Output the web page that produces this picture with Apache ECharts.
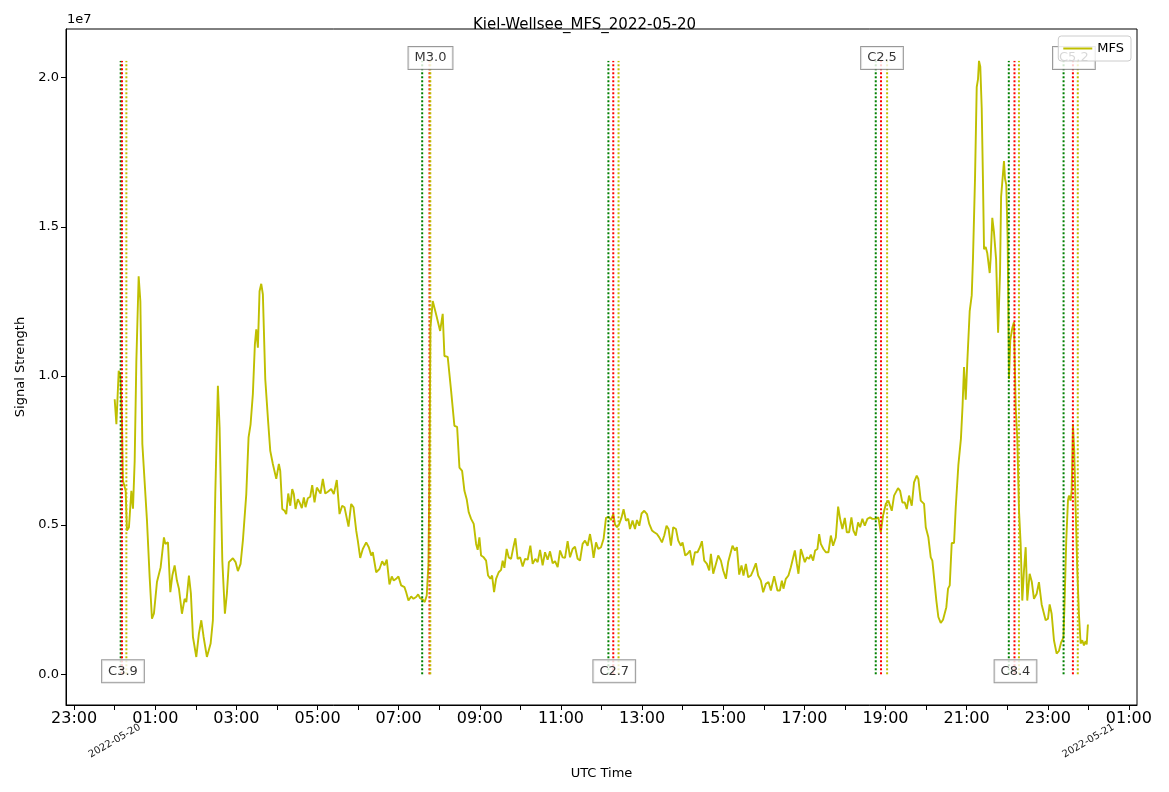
<!DOCTYPE html>
<html>
<head>
<meta charset="utf-8">
<title>Kiel-Wellsee_MFS_2022-05-20</title>
<script src="https://cdn.jsdelivr.net/npm/echarts@6/dist/echarts.min.js"></script>
<style>
  html, body { margin: 0; padding: 0; background: #fff; }
  #chart { width: 1169px; height: 792px; }
</style>
</head>
<body>
<div id="chart"></div>
<script>
// hours after 2022-05-20 00:00 UTC
var hours = [
  0.000, 0.042, 0.099, 0.140, 0.180, 0.204, 0.246, 0.271, 0.303, 0.352,
  0.411, 0.451, 0.493, 0.534, 0.591, 0.633, 0.682, 0.796, 0.862, 0.919,
  0.968, 1.042, 1.091, 1.133, 1.165, 1.214, 1.249, 1.313, 1.372, 1.421,
  1.478, 1.534, 1.584, 1.658, 1.724, 1.766, 1.830, 1.879, 1.929, 2.012,
  2.076, 2.135, 2.192, 2.273, 2.365, 2.421, 2.480, 2.544, 2.586, 2.653,
  2.717, 2.766, 2.815, 2.857, 2.914, 2.980, 3.037, 3.103, 3.160, 3.244,
  3.300, 3.350, 3.406, 3.456, 3.490, 3.530, 3.571, 3.613, 3.653, 3.712,
  3.781, 3.835, 3.899, 3.983, 4.047, 4.081, 4.131, 4.187, 4.229, 4.278,
  4.328, 4.377, 4.416, 4.458, 4.515, 4.557, 4.613, 4.663, 4.704, 4.761,
  4.820, 4.869, 4.926, 4.983, 5.032, 5.074, 5.131, 5.190, 5.254, 5.337,
  5.401, 5.475, 5.542, 5.608, 5.665, 5.764, 5.830, 5.887, 5.953, 5.993,
  6.052, 6.116, 6.200, 6.264, 6.323, 6.362, 6.446, 6.527, 6.594, 6.650,
  6.707, 6.773, 6.830, 6.879, 6.938, 6.995, 7.061, 7.143, 7.185, 7.241,
  7.308, 7.365, 7.431, 7.480, 7.530, 7.594, 7.643, 7.692, 7.734, 7.759,
  7.783, 7.840, 7.924, 8.022, 8.086, 8.128, 8.209, 8.293, 8.374, 8.441,
  8.498, 8.564, 8.621, 8.677, 8.727, 8.786, 8.850, 8.909, 8.948, 8.990,
  9.032, 9.096, 9.155, 9.204, 9.261, 9.303, 9.352, 9.401, 9.466, 9.525,
  9.564, 9.606, 9.663, 9.712, 9.771, 9.828, 9.877, 9.933, 9.993, 10.057,
  10.116, 10.180, 10.246, 10.303, 10.369, 10.426, 10.485, 10.549, 10.608, 10.672,
  10.731, 10.796, 10.855, 10.919, 10.978, 11.042, 11.101, 11.165, 11.224, 11.288,
  11.347, 11.411, 11.470, 11.534, 11.594, 11.658, 11.717, 11.766, 11.805, 11.865,
  11.921, 11.988, 12.052, 12.111, 12.175, 12.234, 12.291, 12.333, 12.382, 12.438,
  12.495, 12.544, 12.603, 12.660, 12.702, 12.766, 12.825, 12.874, 12.931, 12.988,
  13.054, 13.121, 13.177, 13.244, 13.300, 13.367, 13.424, 13.490, 13.547, 13.603,
  13.653, 13.712, 13.768, 13.835, 13.892, 13.958, 13.998, 14.064, 14.121, 14.180,
  14.244, 14.303, 14.367, 14.426, 14.475, 14.532, 14.599, 14.655, 14.697, 14.754,
  14.820, 14.877, 14.943, 15.000, 15.067, 15.123, 15.172, 15.229, 15.288, 15.337,
  15.394, 15.451, 15.500, 15.559, 15.616, 15.682, 15.739, 15.805, 15.862, 15.929,
  15.985, 16.052, 16.116, 16.175, 16.256, 16.337, 16.397, 16.446, 16.485, 16.544,
  16.608, 16.667, 16.707, 16.766, 16.815, 16.855, 16.914, 16.953, 17.012, 17.062,
  17.118, 17.160, 17.217, 17.266, 17.323, 17.365, 17.406, 17.470, 17.530, 17.594,
  17.653, 17.709, 17.776, 17.833, 17.882, 17.938, 17.998, 18.047, 18.103, 18.160,
  18.209, 18.268, 18.325, 18.374, 18.431, 18.490, 18.554, 18.621, 18.677, 18.761,
  18.825, 18.884, 18.941, 19.007, 19.071, 19.113, 19.155, 19.212, 19.254, 19.310,
  19.360, 19.416, 19.475, 19.525, 19.581, 19.648, 19.704, 19.771, 19.810, 19.869,
  19.909, 19.951, 19.993, 20.057, 20.116, 20.155, 20.197, 20.254, 20.303, 20.362,
  20.419, 20.461, 20.500, 20.542, 20.584, 20.633, 20.690, 20.732, 20.796, 20.860,
  20.899, 20.936, 20.978, 21.018, 21.076, 21.126, 21.158, 21.207, 21.249, 21.281,
  21.305, 21.337, 21.372, 21.404, 21.429, 21.470, 21.510, 21.569, 21.594, 21.633,
  21.675, 21.727, 21.776, 21.823, 21.850, 21.884, 21.921, 21.946, 21.978, 22.012,
  22.044, 22.076, 22.126, 22.167, 22.209, 22.249, 22.291, 22.332, 22.372, 22.414,
  22.456, 22.495, 22.554, 22.608, 22.660, 22.727, 22.783, 22.850, 22.948, 23.005,
  23.047, 23.096, 23.153, 23.219, 23.276, 23.333, 23.387, 23.416, 23.456, 23.498,
  23.522, 23.564, 23.589, 23.621, 23.653, 23.687, 23.726, 23.768, 23.810, 23.850,
  23.892, 23.933, 23.960, 23.990
];

// signal strength in units of 1e6
var strength = [
  9.22, 8.38, 10.17, 10.0, 8.5, 6.49, 6.55, 6.15, 4.82, 4.93,
  6.15, 5.55, 7.16, 10.5, 13.34, 12.5, 7.72, 5.15, 3.25, 1.86,
  2.04, 3.09, 3.14, 3.59, 3.65, 4.59, 4.37, 4.42, 2.75, 3.31,
  3.65, 3.14, 2.87, 2.03, 2.53, 2.42, 3.31, 2.70, 1.25, 0.58,
  1.36, 1.81, 1.25, 0.58, 1.03, 1.81, 6.04, 9.67, 8.27, 3.81,
  2.03, 2.70, 3.76, 3.76, 3.89, 3.76, 3.46, 3.70, 4.48, 6.04,
  7.94, 8.38, 9.39, 11.06, 11.56, 10.95, 12.84, 13.09, 12.73, 9.89,
  8.5, 7.49, 7.05, 6.55, 7.05, 6.82, 5.54, 5.48, 5.37, 6.06,
  5.65, 6.21, 6.04, 5.54, 5.87, 5.76, 5.57, 5.93, 5.60, 5.90,
  5.95, 6.34, 5.76, 6.26, 6.29, 6.06, 6.55, 6.06, 6.12, 6.21,
  6.04, 6.51, 5.37, 5.65, 5.60, 4.95, 5.71, 5.60, 4.82, 4.48,
  3.90, 4.20, 4.42, 4.26, 3.98, 4.09, 3.42, 3.53, 3.79, 3.65,
  3.84, 3.01, 3.28, 3.14, 3.20, 3.28, 2.98, 2.92, 2.75, 2.47,
  2.61, 2.53, 2.59, 2.68, 2.55, 2.50, 2.42, 2.64, 3.70, 6.82,
  11.62, 12.51, 12.06, 11.51, 12.08, 10.67, 10.64, 9.50, 8.33, 8.29,
  6.93, 6.82, 6.15, 5.87, 5.43, 5.21, 5.04, 4.37, 4.17, 4.59,
  3.98, 3.92, 3.81, 3.31, 3.20, 3.31, 2.75, 3.20, 3.42, 3.50,
  3.81, 3.57, 4.20, 3.92, 3.87, 4.26, 4.56, 3.87, 3.92, 3.61,
  3.87, 3.84, 4.31, 3.70, 3.87, 3.76, 4.17, 3.65, 4.09, 3.84,
  4.12, 3.72, 3.79, 3.59, 4.15, 3.92, 3.90, 4.46, 3.92, 4.20,
  4.28, 3.87, 3.81, 4.37, 4.48, 4.31, 4.70, 4.31, 3.90, 4.42,
  4.20, 4.26, 4.54, 5.24, 5.28, 5.17, 5.37, 5.02, 4.93, 5.04,
  5.26, 5.53, 5.15, 5.21, 4.87, 5.15, 4.87, 5.17, 4.98, 5.39,
  5.48, 5.37, 5.04, 4.82, 4.76, 4.70, 4.59, 4.42, 4.65, 4.98,
  4.87, 4.31, 4.93, 4.87, 4.48, 4.31, 4.42, 3.98, 4.04, 4.15,
  3.65, 4.09, 4.09, 4.26, 4.46, 3.81, 3.70, 3.48, 4.04, 3.37,
  3.70, 3.98, 3.81, 3.48, 3.20, 3.76, 3.70, 4.31, 4.15, 4.26,
  3.34, 3.65, 3.31, 3.70, 3.25, 3.31, 3.48, 3.72, 3.31, 3.14,
  2.75, 3.03, 3.09, 2.81, 3.29, 2.81, 2.81, 3.14, 2.87, 3.20,
  3.31, 3.59, 3.53, 4.15, 3.70, 3.37, 4.20, 4.26, 3.76, 3.92,
  3.87, 4.01, 3.81, 4.15, 4.20, 4.70, 4.37, 4.20, 4.09, 4.09,
  4.65, 4.31, 4.59, 5.62, 5.21, 4.87, 5.24, 4.76, 4.76, 5.26,
  4.82, 4.65, 5.09, 4.93, 5.21, 4.98, 5.21, 5.26, 5.21, 5.21,
  5.26, 4.76, 5.32, 5.71, 5.82, 5.82, 5.48, 5.99, 5.99, 6.24,
  6.15, 5.76, 5.76, 5.54, 5.99, 5.65, 6.43, 6.66, 6.55, 5.82,
  5.82, 5.71, 4.93, 4.59, 3.92, 3.81, 3.25, 2.47, 1.92, 1.72,
  1.83, 1.86, 2.25, 2.87, 2.98, 4.40, 4.40, 5.60, 7.0, 7.9,
  8.97, 10.3, 9.2, 10.5, 12.17, 12.7, 13.98, 16.62, 19.68, 19.95,
  20.56, 20.37, 18.98, 16.48, 14.25, 14.32, 14.11, 13.45, 13.97, 15.3,
  14.81, 13.9, 11.45, 13.42, 16.0, 16.06, 17.2, 16.62, 16.41, 14.53,
  9.9, 11.19, 11.61, 11.8, 9.0, 7.9, 5.5, 4.37, 2.47, 3.48,
  4.26, 2.47, 3.37, 3.09, 2.53, 2.70, 3.09, 2.34, 1.81, 1.86,
  2.34, 2.03, 1.14, 0.69, 0.78, 1.08, 1.23, 2.47, 4.48, 5.82,
  5.99, 5.82, 6.15, 8.38, 7.49, 5.60, 3.59, 2.03, 1.03, 1.14,
  0.97, 1.11, 1.0, 1.67
];

// flares (hours after 00:00 UTC)
var flareClass = ['C3.9', 'M3.0', 'C2.7', 'C2.5', 'C8.4', 'C5.2'];
var flareStart = [0.148, 7.58, 12.17, 18.76, 22.04, 23.39];
var flarePeak  = [0.180, 7.76, 12.29, 18.89, 22.18, 23.62];
var flareEnd   = [0.288, 7.78, 12.42, 19.04, 22.29, 23.74];

var xTickHours  = [-1, 0, 1, 2, 3, 4, 5, 6, 7, 8, 9, 10, 11, 12, 13, 14, 15, 16, 17, 18, 19, 20, 21, 22, 23, 24, 25];
var xLabelHours = [-1, 1, 3, 5, 7, 9, 11, 13, 15, 17, 19, 21, 23, 25];
var dateHours   = [0, 24];
var dateLabels  = ['2022-05-20', '2022-05-21'];
var yTicks      = [0, 5e6, 1e7, 1.5e7, 2e7];

var FONT = 'DejaVu Sans';
var LINE_COLOR = '#bfbf00';

var signal = hours.map(function(h, i) { return [h, strength[i] * 1e6]; });
var vmax = Math.max.apply(null, strength) * 1e6;

function hhmm(v) {
    var h = ((Math.round(v) % 24) + 24) % 24;
    return (h < 10 ? '0' : '') + h + ':00';
}

var series = [{
    name: 'MFS',
    type: 'line',
    data: signal,
    showSymbol: false,
    symbol: 'none',
    lineStyle: { color: LINE_COLOR, width: 1.9 },
    itemStyle: { color: LINE_COLOR },
    z: 2
}];

// start / peak / end lines
[[flareStart, '#008000'], [flarePeak, '#ff0000'], [flareEnd, LINE_COLOR]].forEach(function(pair) {
    pair[0].forEach(function(t) {
        series.push({
            type: 'line',
            data: [[t, 0], [t, vmax]],
            showSymbol: false,
            symbol: 'none',
            silent: true,
            lineStyle: { color: pair[1], width: 2, type: [2, 2] },
            z: 3
        });
    });
});

// flare class boxes, alternating bottom / top
series.push({
    type: 'scatter',
    symbolSize: 0,
    silent: true,
    data: flarePeak.map(function(t, i) {
        return { value: [t, i % 2 === 0 ? 0 : vmax], name: flareClass[i] };
    }),
    label: {
        show: true,
        position: 'inside',
        offset: [1, -3],
        formatter: function(p) { return p.name; },
        fontFamily: FONT,
        fontSize: 13,
        color: '#000',
        backgroundColor: '#fff',
        borderColor: '#7f7f7f',
        borderWidth: 1,
        padding: [5, 6, 4, 6]
    },
    z: 4
});

var myChart = echarts.init(document.getElementById('chart'), null, { renderer: 'canvas' });
var option = {
    animation: false,
    backgroundColor: '#fff',
    textStyle: { fontFamily: FONT },
    title: {
        text: 'Kiel-Wellsee_MFS_2022-05-20',
        left: 'center',
        top: 13,
        textStyle: { fontFamily: FONT, fontSize: 15, fontWeight: 'normal', color: '#000' }
    },
    legend: {
        data: ['MFS'],
        right: 38,
        top: 36,
        orient: 'vertical',
        icon: 'rect',
        itemWidth: 29,
        itemHeight: 2,
        padding: [6, 7, 6, 5],
        backgroundColor: 'rgba(255,255,255,0.8)',
        borderColor: '#cccccc',
        borderWidth: 1,
        borderRadius: 3,
        textStyle: { fontFamily: FONT, fontSize: 13, color: '#000' },
        z: 10
    },
    graphic: [{
        type: 'text',
        left: 67,
        top: 13,
        style: { text: '1e7', fontFamily: FONT, fontSize: 13, fill: '#000' }
    }],
    grid: {
        left: 66,
        right: 32,
        top: 29,
        bottom: 87,
        show: true,
        borderColor: '#000',
        borderWidth: 1,
        backgroundColor: 'transparent'
    },
    xAxis: [{
        type: 'value',
        min: -1.2,
        max: 25.2,
        name: 'UTC Time',
        nameLocation: 'middle',
        nameGap: 62,
        nameTextStyle: { fontFamily: FONT, fontSize: 13, color: '#000' },
        splitLine: { show: false },
        axisLine: { show: true, onZero: false, lineStyle: { color: '#000', width: 1 } },
        axisTick: { show: true, customValues: xTickHours, length: 5, lineStyle: { color: '#000' } },
        axisLabel: {
            customValues: xLabelHours,
            formatter: hhmm,
            fontFamily: FONT,
            fontSize: 16,
            color: '#000',
            margin: 6
        }
    }, {
        type: 'value',
        min: -1.2,
        max: 25.2,
        position: 'bottom',
        splitLine: { show: false },
        axisLine: { show: false },
        axisTick: { show: false },
        axisLabel: {
            customValues: dateHours,
            formatter: function(v) { return dateLabels[dateHours.indexOf(Math.round(v))] || ''; },
            rotate: 30,
            align: 'center',
            verticalAlign: 'middle',
            margin: 36,
            fontFamily: FONT,
            fontSize: 10,
            color: '#222'
        }
    }],
    yAxis: {
        type: 'value',
        min: -1.03e6,
        max: 21.63e6,
        name: 'Signal Strength',
        nameLocation: 'middle',
        nameGap: 38,
        nameRotate: 90,
        nameTextStyle: { fontFamily: FONT, fontSize: 13, color: '#000' },
        splitLine: { show: false },
        axisLine: { show: true, onZero: false, lineStyle: { color: '#000', width: 1 } },
        axisTick: { show: true, customValues: yTicks, length: 5, lineStyle: { color: '#000' } },
        axisLabel: {
            customValues: yTicks,
            formatter: function(v) { return (v / 1e7).toFixed(1); },
            fontFamily: FONT,
            fontSize: 13,
            color: '#000',
            margin: 7
        }
    },
    series: series
};

myChart.setOption(option);
</script>
</body>
</html>
